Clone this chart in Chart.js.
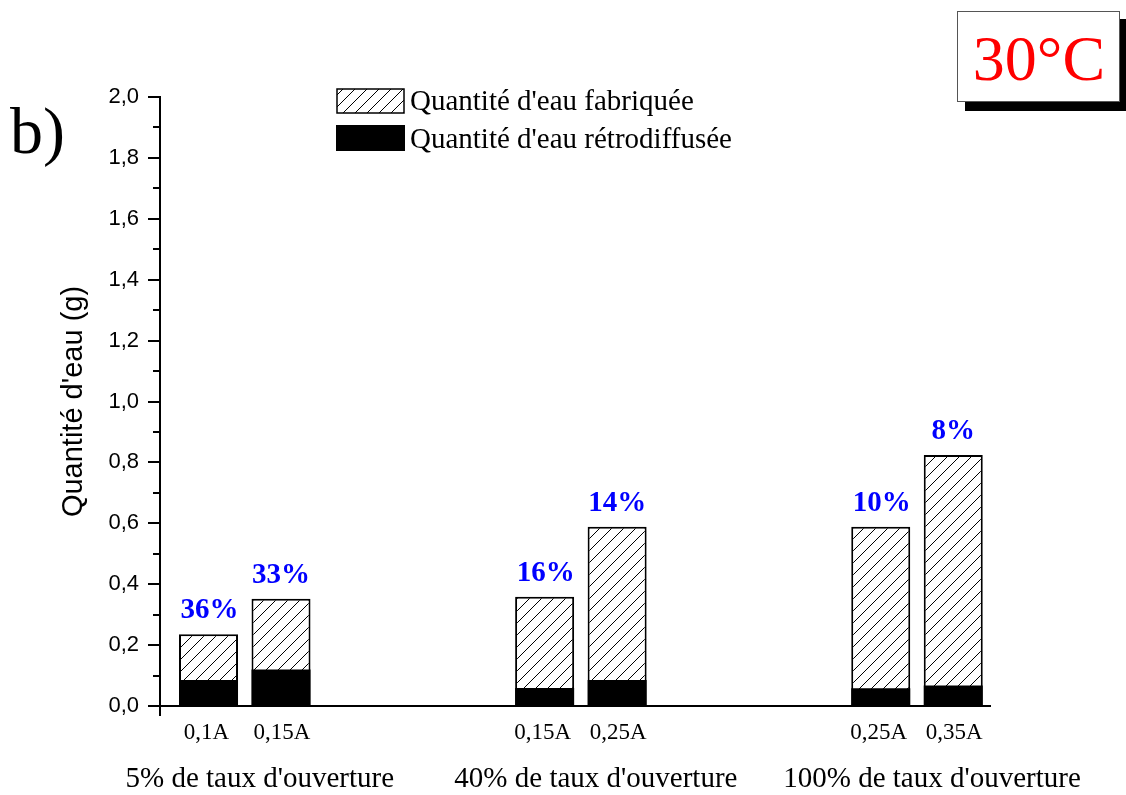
<!DOCTYPE html>
<html>
<head>
<meta charset="utf-8">
<script src="https://cdn.jsdelivr.net/npm/chart.js@4.4.0/dist/chart.umd.min.js"></script>
<style>
html,body{margin:0;padding:0;background:#fff;}
canvas{display:block;}
</style>
</head>
<body>
<canvas id="c" width="1126" height="795"></canvas>
<script>
// ---- data ----
const groupLabels = ["5% de taux d'ouverture", "40% de taux d'ouverture", "100% de taux d'ouverture"];
const groupIndex = [0, 1, 2];
const currentsA = ['0,1A', '0,15A', '0,25A'];
const currentsB = ['0,15A', '0,25A', '0,35A'];
const totalA = [0.236, 0.359, 0.589];   // Quantité d'eau fabriquée (first current)
const blackA = [0.085, 0.059, 0.058];   // Quantité d'eau rétrodiffusée (first current)
const totalB = [0.352, 0.589, 0.824];   // Quantité d'eau fabriquée (second current)
const blackB = [0.120, 0.085, 0.067];   // Quantité d'eau rétrodiffusée (second current)
const pctA = ['36%', '16%', '10%'];
const pctB = ['33%', '14%', '8%'];
const legendLabels = ["Quantité d'eau fabriquée", "Quantité d'eau rétrodiffusée"];
const yTitle = "Quantité d'eau (g)";
const tempLabel = '30°C';
const panelLabel = 'b)';

// ---- helpers ----
function makeHatch() {
  const c = document.createElement('canvas');
  c.width = 12; c.height = 12;
  const g = c.getContext('2d');
  g.fillStyle = '#fff'; g.fillRect(0, 0, 12, 12);
  g.strokeStyle = '#000'; g.lineWidth = 1;
  g.beginPath();
  g.moveTo(0, 12); g.lineTo(12, 0);
  g.moveTo(-6, 6); g.lineTo(6, -6);
  g.moveTo(6, 18); g.lineTo(18, 6);
  g.stroke();
  return g.createPattern(c, 'repeat');
}
const hatch = makeHatch();
const pts = arr => arr.map((v, i) => ({x: groupIndex[i], y: v}));
const fmt = v => Number(v).toFixed(1).replace('.', ',');

const SERIF = '"Liberation Serif", "Times New Roman", serif';
const SANS = '"Liberation Sans", Arial, sans-serif';

const decorPlugin = {
  id: 'decor',
  beforeDraw(chart) {
    const ctx = chart.ctx;
    ctx.save();
    ctx.fillStyle = '#fff';
    ctx.fillRect(0, 0, chart.width, chart.height);
    ctx.restore();
  },
  afterDraw(chart) {
    const ctx = chart.ctx;
    const xs = chart.scales.x, ys = chart.scales.y;
    ctx.save();
    // minor ticks on y axis
    ctx.strokeStyle = '#000'; ctx.lineWidth = 2;
    const tk = ys.ticks;
    for (let i = 0; i < tk.length - 1; i++) {
      const p = (ys.getPixelForValue(tk[i].value) + ys.getPixelForValue(tk[i + 1].value)) / 2;
      ctx.beginPath(); ctx.moveTo(ys.right - 7, Math.round(p)); ctx.lineTo(ys.right, Math.round(p)); ctx.stroke();
    }
    // per-bar labels and percentages
    const metaTA = chart.getDatasetMeta(2), metaTB = chart.getDatasetMeta(3);
    ctx.textAlign = 'center'; ctx.textBaseline = 'alphabetic';
    for (let i = 0; i < groupIndex.length; i++) {
      const a = metaTA.data[i], b = metaTB.data[i];
      ctx.fillStyle = '#000';
      ctx.font = '23px ' + SERIF;
      ctx.fillText(currentsA[i], a.x - 2, xs.top + 33);
      ctx.fillText(currentsB[i], b.x + 1, xs.top + 33);
      ctx.font = 'bold 29px ' + SERIF;
      ctx.fillStyle = '#0000ff';
      ctx.fillText(pctA[i], a.x + 1, a.y - 16);
      ctx.fillText(pctB[i], b.x, b.y - 16);
      ctx.fillStyle = '#000';
      ctx.font = '29px ' + SERIF;
      ctx.fillText(groupLabels[i], xs.getPixelForValue(groupIndex[i]) + 15, xs.top + 81);
    }
    // legend
    ctx.lineWidth = 1.5;
    ctx.fillStyle = hatch;
    ctx.fillRect(337, 89, 67, 24);
    ctx.strokeStyle = '#000';
    ctx.strokeRect(337, 89, 67, 24);
    ctx.fillStyle = '#000';
    ctx.fillRect(336, 125, 69, 26);
    ctx.font = '29px ' + SERIF;
    ctx.textAlign = 'left'; ctx.textBaseline = 'middle';
    ctx.fillText(legendLabels[0], 410, 102);
    ctx.fillText(legendLabels[1], 410, 140);
    // temperature box
    ctx.fillStyle = '#000';
    ctx.fillRect(965, 19, 163, 92);
    ctx.fillStyle = '#fff';
    ctx.fillRect(957, 11, 163, 91);
    ctx.strokeStyle = '#555'; ctx.lineWidth = 1;
    ctx.strokeRect(957.5, 11.5, 162, 90);
    ctx.fillStyle = '#ff0000';
    ctx.font = '64px ' + SERIF;
    ctx.textAlign = 'center'; ctx.textBaseline = 'alphabetic';
    ctx.fillText(tempLabel, 1039, 80);
    // panel label
    ctx.fillStyle = '#000';
    ctx.textAlign = 'left';
    ctx.font = '66px ' + SERIF;
    ctx.fillText(panelLabel, 10, 153);
    ctx.restore();
  }
};

const common = {categoryPercentage: 0.4314, barPercentage: 0.814};

new Chart(document.getElementById('c'), {
  type: 'bar',
  data: {
    datasets: [
      Object.assign({label: legendLabels[1], data: pts(blackA), stack: 'a', backgroundColor: '#000', borderColor: '#000', borderWidth: 0}, common),
      Object.assign({label: legendLabels[1], data: pts(blackB), stack: 'b', backgroundColor: '#000', borderColor: '#000', borderWidth: 0}, common),
      Object.assign({label: legendLabels[0], data: pts(totalA), stack: 'a', backgroundColor: hatch, borderColor: '#000', borderWidth: 2}, common),
      Object.assign({label: legendLabels[0], data: pts(totalB), stack: 'b', backgroundColor: hatch, borderColor: '#000', borderWidth: 2}, common)
    ]
  },
  options: {
    responsive: false,
    animation: false,
    layout: {padding: {left: 0, top: 97, right: 136, bottom: 0}},
    plugins: {legend: {display: false}, tooltip: {enabled: false}},
    scales: {
      x: {
        type: 'linear',
        stacked: true,
        offset: false,
        min: -0.2522,
        max: 2.2172,
        afterBuildTicks: s => { s.ticks = [{value: s.min}]; },
        afterFit: s => { s.height = 89; },
        ticks: {display: false},
        grid: {display: true, offset: false, drawOnChartArea: false, drawTicks: true, tickLength: 10, color: '#000', lineWidth: 2},
        border: {display: true, color: '#000', width: 2}
      },
      y: {
        stacked: false,
        min: 0,
        max: 2,
        afterFit: s => { s.width = 160; },
        ticks: {stepSize: 0.2, padding: 9, color: '#000', font: {family: SANS, size: 22}, callback: v => fmt(v)},
        grid: {display: true, drawOnChartArea: false, drawTicks: true, tickLength: 12, color: '#000', lineWidth: 2},
        border: {display: true, color: '#000', width: 2},
        title: {display: true, text: yTitle, color: '#000', font: {family: SANS, size: 29}, padding: {top: 57, bottom: 0}}
      }
    }
  },
  plugins: [decorPlugin]
});
</script>
</body>
</html>
